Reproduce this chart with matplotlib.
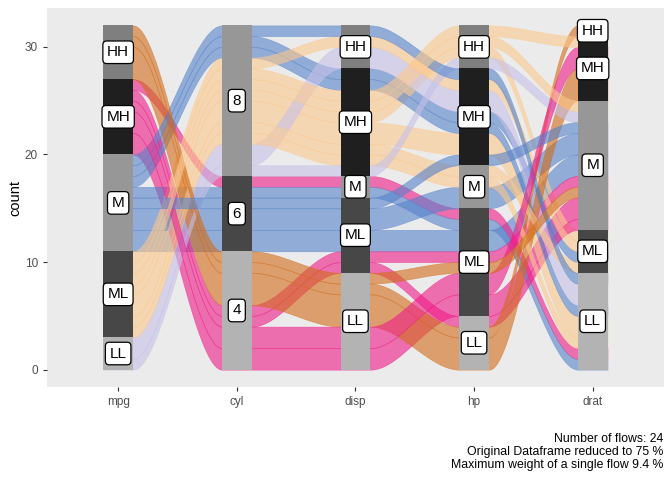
import numpy as np
import matplotlib
matplotlib.use("Agg")
import matplotlib.pyplot as plt
from matplotlib.patches import Rectangle

plt.rcParams["font.family"] = ["Liberation Sans", "DejaVu Sans"]

# axes of the alluvial plot and their levels, bottom to top
variables = ["mpg", "cyl", "disp", "hp", "drat"]
bins = ["LL", "ML", "M", "MH", "HH"]
cyl_levels = ["4", "6", "8"]

# one entry per flow (24 flows), fill follows mpg
flow_mpg = ["M", "MH", "MH", "M", "M", "ML", "MH", "MH", "M", "ML", "M", "LL",
            "ML", "HH", "HH", "ML", "ML", "LL", "M", "MH", "HH", "ML", "M", "ML"]
flow_cyl = ["6", "4", "6", "8", "6", "8", "4", "4", "6", "8", "8", "8",
            "8", "4", "4", "8", "8", "8", "8", "4", "4", "8", "6", "8"]
flow_disp = ["ML", "LL", "M", "MH", "M", "MH", "ML", "ML", "ML", "MH", "MH", "HH",
             "HH", "LL", "LL", "MH", "MH", "MH", "HH", "LL", "LL", "MH", "ML", "MH"]
flow_hp = ["ML", "ML", "ML", "MH", "ML", "HH", "LL", "ML", "M", "MH", "MH", "MH",
           "MH", "LL", "LL", "M", "M", "HH", "MH", "ML", "ML", "HH", "MH", "HH"]
flow_drat = ["M", "M", "LL", "ML", "LL", "ML", "M", "M", "M", "LL", "LL", "LL",
             "ML", "MH", "HH", "LL", "ML", "M", "LL", "MH", "M", "MH", "M", "M"]
flow_n = [2, 2, 1, 1, 1, 1, 1, 1, 2, 2, 1, 2, 1, 3, 1, 1, 1, 1, 1, 2, 1, 1, 1, 1]

fill_colors = {"LL": "#c5c1e9", "ML": "#fdc88c", "M": "#5582ca",
               "MH": "#f01b87", "HH": "#d26b17"}
stratum_greys = ["#b3b3b3", "#474747", "#979797", "#1f1f1f", "#7f7f7f"]

caption = ("Number of flows: 24\n"
           "Original Dataframe reduced to 75 %\n"
           "Maximum weight of a single flow 9.4 %")

_BG = "#ebebeb"
_TICK_TXT = "#4d4d4d"
WIDTH = 0.25

levels = [bins, cyl_levels, bins, bins, bins]
columns = [flow_mpg, flow_cyl, flow_disp, flow_hp, flow_drat]
n_axes = len(variables)
n_flows = len(flow_n)
codes = np.array([[lv.index(v) for v in col] for col, lv in zip(columns, levels)]).T
weights = np.array(flow_n, dtype=float)

# lode stacking at each axis: own stratum first, then axes to the left, then right
lode_bottom = np.zeros((n_flows, n_axes))
for k in range(n_axes):
    guide = [k] + list(range(k - 1, -1, -1)) + list(range(k + 1, n_axes))
    order = sorted(range(n_flows), key=lambda f: tuple(codes[f, g] for g in guide))
    y = 0.0
    for f in order:
        lode_bottom[f, k] = y
        y += weights[f]

fig = plt.figure(figsize=(6.72, 4.8), dpi=100)
ax = fig.add_axes([0.0699, 0.194, 0.918, 0.789])
ax.set_facecolor(_BG)

# ribbons
for f in range(n_flows):
    xs, lo = [], []
    for k in range(n_axes):
        xs += [k + 1 - WIDTH / 2, k + 1 + WIDTH / 2]
        lo += [lode_bottom[f, k]] * 2
        if k < n_axes - 1:
            x0, x1 = k + 1 + WIDTH / 2, k + 2 - WIDTH / 2
            t = np.linspace(0, 1, 60)[1:-1]
            s = 3 * t ** 2 - 2 * t ** 3
            xs += list(x0 + (x1 - x0) * t)
            lo += list(lode_bottom[f, k] + (lode_bottom[f, k + 1] - lode_bottom[f, k]) * s)
    xs = np.array(xs)
    lo = np.array(lo)
    col = fill_colors[flow_mpg[f]]
    ax.fill_between(xs, lo, lo + weights[f], facecolor=col, edgecolor=col,
                    alpha=0.6, linewidth=0.4, zorder=1)

# strata and their labels
for k in range(n_axes):
    counts = np.zeros(len(levels[k]))
    for f in range(n_flows):
        counts[codes[f, k]] += weights[f]
    bottom = 0.0
    for j, c in enumerate(counts):
        if c == 0:
            continue
        ax.add_patch(Rectangle((k + 1 - WIDTH / 2, bottom), WIDTH, c,
                               facecolor=stratum_greys[j], edgecolor="none", zorder=2))
        ax.text(k + 1, bottom + c / 2, levels[k][j], ha="center", va="center",
                fontsize=11, color="black", zorder=3,
                bbox=dict(boxstyle="round,pad=0.28,rounding_size=0.25",
                          facecolor="white", edgecolor="black", linewidth=0.9))
        bottom += c

ax.set_xlim(0.4, 5.6)
ax.set_ylim(-1.6, 33.6)
ax.set_xticks(range(1, n_axes + 1))
ax.set_xticklabels(variables)
ax.set_yticks([0, 10, 20, 30])
ax.tick_params(colors="#333333", labelcolor=_TICK_TXT, length=3, labelsize=8.5)
for spine in ax.spines.values():
    spine.set_visible(False)
ax.set_ylabel("count", fontsize=10.5, color="black", labelpad=2)

fig.text(0.987, 0.018, caption, ha="right", va="bottom", fontsize=8.8,
         linespacing=1.15, color="black")

fig.savefig("out.png", dpi=100, facecolor="white")
